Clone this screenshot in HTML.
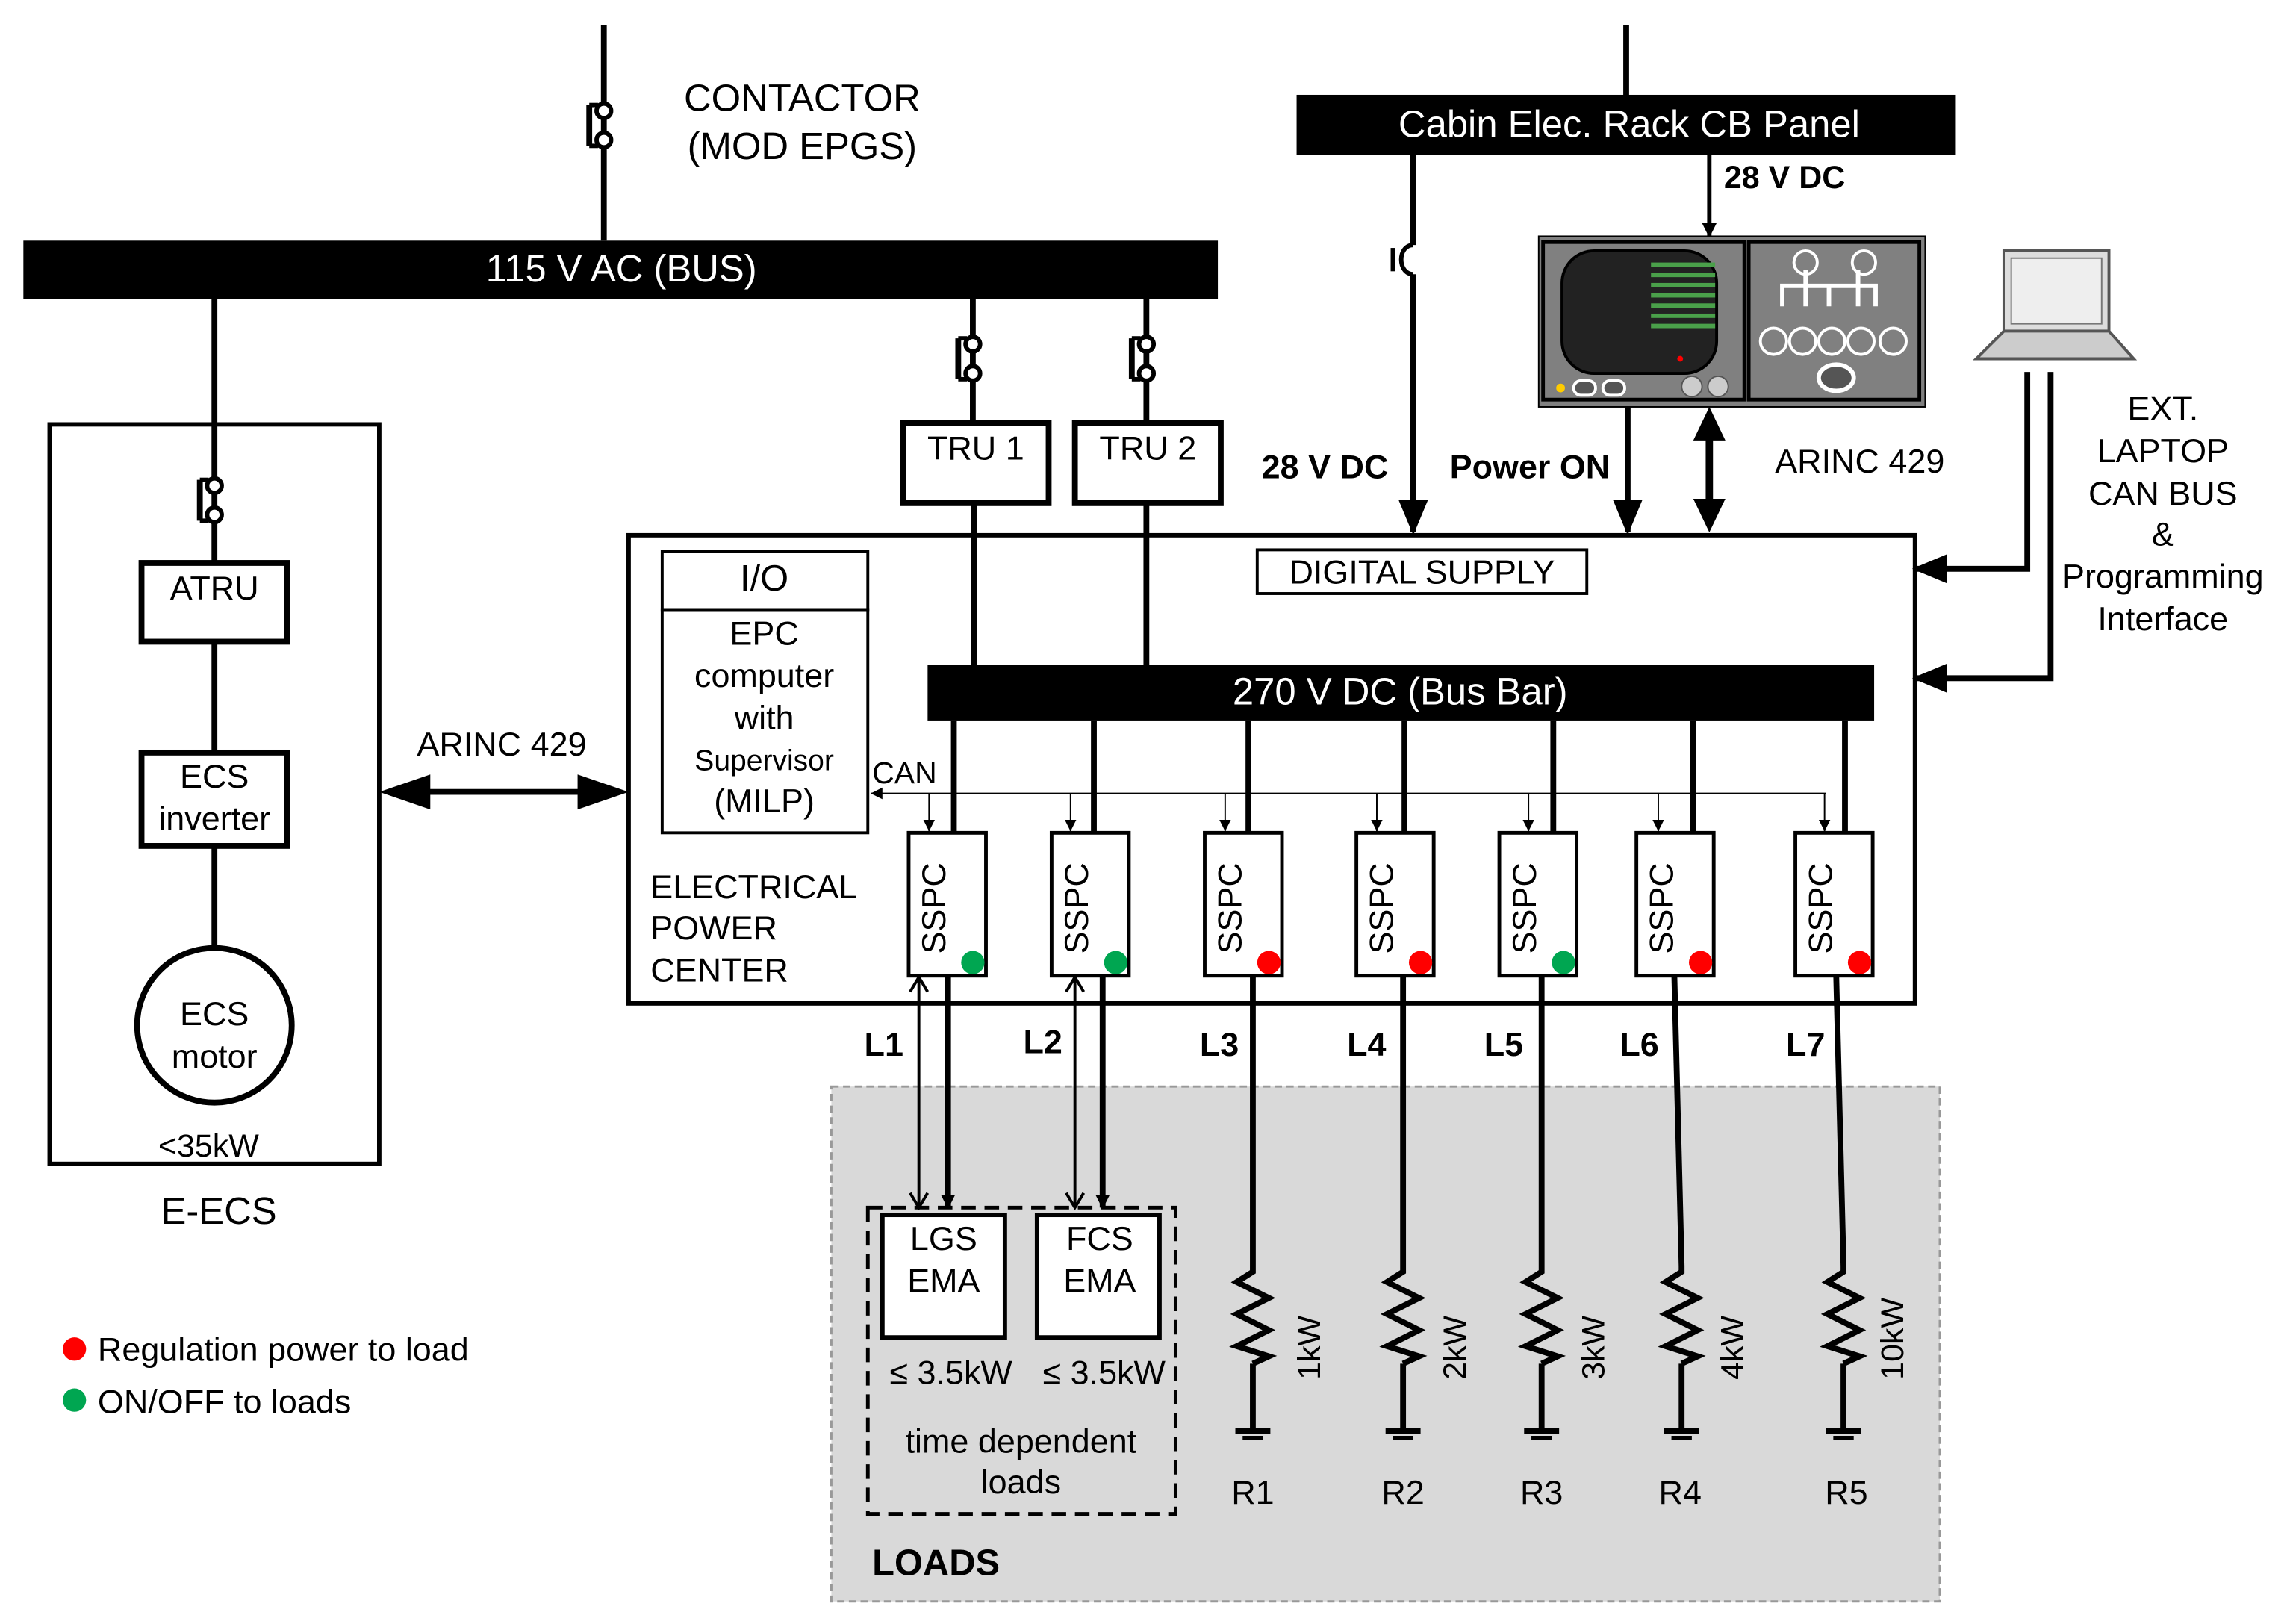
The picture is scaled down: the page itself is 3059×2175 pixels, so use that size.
<!DOCTYPE html>
<html><head><meta charset="utf-8"><style>
html,body{margin:0;padding:0;background:#fff}
svg{display:block}
text{font-family:"Liberation Sans",sans-serif;fill:#000}
</style></head><body>
<svg width="3059" height="2175" viewBox="0 0 1566 1113.5" xmlns="http://www.w3.org/2000/svg">
<defs>
<marker id="ah" markerWidth="10" markerHeight="10" refX="9" refY="5" orient="auto" markerUnits="userSpaceOnUse"><path d="M0,0 L10,5 L0,10 z" fill="#000"/></marker>
<marker id="ahs" markerWidth="8" markerHeight="10" refX="8" refY="4" orient="auto" markerUnits="userSpaceOnUse"><path d="M0,0 L8,4 L0,8 z" fill="#000"/></marker>
<marker id="ahb" markerWidth="24" markerHeight="20" refX="22" refY="10" orient="auto" markerUnits="userSpaceOnUse"><path d="M0,0 L24,10 L0,20 z" fill="#000"/></marker>
<g id="cont"><line x1="-10" y1="-14" x2="-10" y2="14" stroke="#000" stroke-width="4"/><line x1="-10" y1="-14" x2="-4" y2="-14" stroke="#000" stroke-width="3"/><line x1="-10" y1="14" x2="-4" y2="14" stroke="#000" stroke-width="3"/><circle cx="0" cy="-10" r="5" fill="#fff" stroke="#000" stroke-width="3"/><circle cx="0" cy="10" r="5" fill="#fff" stroke="#000" stroke-width="3"/></g>
<g id="res"><polyline points="0,0 0,4 -11,11 11,22 -11,33 11,44 -11,55 11,62 0,67" fill="none" stroke="#000" stroke-width="4"/></g>
<g id="gnd"><line x1="-12" y1="0" x2="12" y2="0" stroke="#000" stroke-width="4"/><line x1="-7" y1="5" x2="7" y2="5" stroke="#000" stroke-width="3"/></g>
</defs>

<line x1="414" y1="17" x2="414" y2="165" stroke="#000" stroke-width="4"/>
<use href="#cont" x="414" y="86"/>
<text x="550" y="76" font-size="26" text-anchor="middle">CONTACTOR</text>
<text x="550" y="109" font-size="26" text-anchor="middle">(MOD EPGS)</text>

<rect x="16" y="165" width="819" height="40" fill="#000"/>
<text x="426" y="193" font-size="26" text-anchor="middle" style="fill:#fff">115 V AC (BUS)</text>

<line x1="1115" y1="17" x2="1115" y2="66" stroke="#000" stroke-width="4"/>
<rect x="889" y="65" width="452" height="41" fill="#000"/>
<text x="1117" y="94" font-size="26" text-anchor="middle" style="fill:#fff">Cabin Elec. Rack CB Panel</text>
<line x1="1172" y1="106" x2="1172" y2="162" stroke="#000" stroke-width="3" marker-end="url(#ah)"/>
<text x="1182" y="129" font-size="22" font-weight="bold">28 V DC</text>

<rect x="1055" y="162" width="265" height="117" fill="#808080" stroke="#000" stroke-width="1"/>
<rect x="1058" y="166" width="138" height="108" fill="#808080" stroke="#000" stroke-width="2.5"/>
<rect x="1199" y="166" width="117" height="108" fill="#808080" stroke="#000" stroke-width="2.5"/>
<rect x="1071" y="172" width="106" height="84" rx="22" fill="#222" stroke="#000" stroke-width="2"/>
<g fill="#4aa04a"><rect x="1132" y="180" width="44" height="3"/><rect x="1132" y="187" width="44" height="3"/><rect x="1132" y="194" width="44" height="3"/><rect x="1132" y="201" width="44" height="3"/><rect x="1132" y="208" width="44" height="3"/><rect x="1132" y="215" width="44" height="3"/><rect x="1132" y="222" width="44" height="3"/></g>
<circle cx="1152" cy="246" r="2" fill="red"/>
<circle cx="1070" cy="266" r="3" fill="#fc0"/>
<rect x="1079" y="261" width="15" height="10" rx="5" fill="#555" stroke="#fff" stroke-width="2"/>
<rect x="1099" y="261" width="15" height="10" rx="5" fill="#555" stroke="#fff" stroke-width="2"/>
<circle cx="1160" cy="265" r="7" fill="#ccc" stroke="#555"/><circle cx="1178" cy="265" r="7" fill="#ccc" stroke="#555"/>
<g fill="none" stroke="#fff" stroke-width="3"><path d="M1222,210 V196 H1286 V210 M1238,196 V185 M1274,196 V185 M1238,196 V210 M1254,196 V210 M1274,196 V210"/></g>
<circle cx="1238" cy="180" r="8" fill="none" stroke="#fff" stroke-width="2"/><circle cx="1278" cy="180" r="8" fill="none" stroke="#fff" stroke-width="2"/>
<g fill="none" stroke="#fff" stroke-width="2"><circle cx="1216" cy="234" r="9"/><circle cx="1236" cy="234" r="9"/><circle cx="1256" cy="234" r="9"/><circle cx="1276" cy="234" r="9"/><circle cx="1298" cy="234" r="9"/></g>
<ellipse cx="1259" cy="259" rx="12" ry="9" fill="#555" stroke="#fff" stroke-width="3"/>

<path d="M969,106 V168 M969,188 V365" stroke="#000" stroke-width="4" fill="none" marker-end="url(#ahb)"/>
<path d="M969,168 C958,168 958,188 969,188" fill="none" stroke="#000" stroke-width="3"/>
<line x1="955" y1="170" x2="955" y2="186" stroke="#000" stroke-width="3"/>
<line x1="1116" y1="279" x2="1116" y2="365" stroke="#000" stroke-width="4" marker-end="url(#ahb)"/>
<line x1="1172" y1="295" x2="1172" y2="350" stroke="#000" stroke-width="5"/>
<path d="M1161,302 L1172,279 L1183,302 z M1161,342 L1172,365 L1183,342 z" fill="#000"/>
<text x="865" y="328" font-size="23" font-weight="bold">28 V DC</text>
<text x="994" y="328" font-size="23" font-weight="bold">Power ON</text>
<text x="1217" y="324" font-size="23">ARINC 429</text>

<rect x="1374" y="172" width="72" height="55" fill="#ddd" stroke="#555" stroke-width="2"/>
<rect x="1379" y="177" width="62" height="45" fill="#eee" stroke="#777"/>
<path d="M1374,227 L1355,246 H1463 L1446,227 z" fill="#ccc" stroke="#555" stroke-width="2"/>
<path d="M1390,255 V390 H1313" fill="none" stroke="#000" stroke-width="4" marker-end="url(#ahb)"/>
<path d="M1406,255 V465 H1313" fill="none" stroke="#000" stroke-width="4" marker-end="url(#ahb)"/>
<g font-size="23" text-anchor="middle"><text x="1483" y="288">EXT.</text><text x="1483" y="317">LAPTOP</text><text x="1483" y="346">CAN BUS</text><text x="1483" y="374">&amp;</text><text x="1483" y="403">Programming</text><text x="1483" y="432">Interface</text></g>

<rect x="431" y="367" width="882" height="321" fill="none" stroke="#000" stroke-width="3"/>
<rect x="454" y="378" width="141" height="40" fill="none" stroke="#000" stroke-width="2"/>
<rect x="454" y="418" width="141" height="153" fill="none" stroke="#000" stroke-width="2"/>
<text x="524" y="405" font-size="25" text-anchor="middle">I/O</text>
<g text-anchor="middle" font-size="23"><text x="524" y="442">EPC</text><text x="524" y="471">computer</text><text x="524" y="500">with</text><text x="524" y="528" font-size="20">Supervisor</text><text x="524" y="557">(MILP)</text></g>
<rect x="862" y="377" width="226" height="30" fill="none" stroke="#000" stroke-width="2"/>
<text x="975" y="400" font-size="23" text-anchor="middle">DIGITAL SUPPLY</text>
<g font-size="23"><text x="446" y="616">ELECTRICAL</text><text x="446" y="644">POWER</text><text x="446" y="673">CENTER</text></g>

<line x1="667" y1="205" x2="667" y2="290" stroke="#000" stroke-width="4"/>
<use href="#cont" x="667" y="246"/>
<line x1="786" y1="205" x2="786" y2="290" stroke="#000" stroke-width="4"/>
<use href="#cont" x="786" y="246"/>
<rect x="619" y="290" width="100" height="55" fill="#fff" stroke="#000" stroke-width="4"/>
<rect x="737" y="290" width="100" height="55" fill="#fff" stroke="#000" stroke-width="4"/>
<text x="669" y="315" font-size="23" text-anchor="middle">TRU 1</text>
<text x="787" y="315" font-size="23" text-anchor="middle">TRU 2</text>
<line x1="668" y1="345" x2="668" y2="456" stroke="#000" stroke-width="4"/>
<line x1="786" y1="345" x2="786" y2="456" stroke="#000" stroke-width="4"/>

<rect x="636" y="456" width="649" height="38" fill="#000"/>
<text x="960" y="483" font-size="26" text-anchor="middle" style="fill:#fff">270 V DC (Bus Bar)</text>

<line x1="1252" y1="544" x2="597" y2="544" stroke="#000" stroke-width="1" marker-end="url(#ahs)"/>
<text x="598" y="537" font-size="21">CAN</text>

<g stroke="#000">
<line x1="654" y1="494" x2="654" y2="571" stroke-width="4"/>
<line x1="750" y1="494" x2="750" y2="571" stroke-width="4"/>
<line x1="856" y1="494" x2="856" y2="571" stroke-width="4"/>
<line x1="963" y1="494" x2="963" y2="571" stroke-width="4"/>
<line x1="1065" y1="494" x2="1065" y2="571" stroke-width="4"/>
<line x1="1161" y1="494" x2="1161" y2="571" stroke-width="4"/>
<line x1="1265" y1="494" x2="1265" y2="571" stroke-width="4"/>
<g stroke-width="1" marker-end="url(#ahs)">
<line x1="637" y1="544" x2="637" y2="570"/><line x1="734" y1="544" x2="734" y2="570"/><line x1="840" y1="544" x2="840" y2="570"/><line x1="944" y1="544" x2="944" y2="570"/><line x1="1048" y1="544" x2="1048" y2="570"/><line x1="1137" y1="544" x2="1137" y2="570"/><line x1="1251" y1="544" x2="1251" y2="570"/>
</g>
</g>
<g fill="#fff" stroke="#000" stroke-width="2.5">
<rect x="623" y="571" width="53" height="98"/><rect x="721" y="571" width="53" height="98"/><rect x="826" y="571" width="53" height="98"/><rect x="930" y="571" width="53" height="98"/><rect x="1028" y="571" width="53" height="98"/><rect x="1122" y="571" width="53" height="98"/><rect x="1231" y="571" width="53" height="98"/>
</g>
<g font-size="23">
<text transform="translate(648,654) rotate(-90)">SSPC</text>
<text transform="translate(746,654) rotate(-90)">SSPC</text>
<text transform="translate(851,654) rotate(-90)">SSPC</text>
<text transform="translate(955,654) rotate(-90)">SSPC</text>
<text transform="translate(1053,654) rotate(-90)">SSPC</text>
<text transform="translate(1147,654) rotate(-90)">SSPC</text>
<text transform="translate(1256,654) rotate(-90)">SSPC</text>
</g>
<circle cx="667" cy="660" r="8" fill="#00a651"/><circle cx="765" cy="660" r="8" fill="#00a651"/><circle cx="870" cy="660" r="8" fill="#f00"/><circle cx="974" cy="660" r="8" fill="#f00"/><circle cx="1072" cy="660" r="8" fill="#00a651"/><circle cx="1166" cy="660" r="8" fill="#f00"/><circle cx="1275" cy="660" r="8" fill="#f00"/>

<rect x="570" y="745" width="760" height="353" fill="#d9d9d9" stroke="#999" stroke-width="1.5" stroke-dasharray="5,3"/>
<rect x="595" y="828" width="211" height="210" fill="none" stroke="#000" stroke-width="2.5" stroke-dasharray="10,6"/>
<rect x="605" y="833" width="84" height="84" fill="#fff" stroke="#000" stroke-width="3"/>
<rect x="711" y="833" width="84" height="84" fill="#fff" stroke="#000" stroke-width="3"/>
<g font-size="23" text-anchor="middle"><text x="647" y="857">LGS</text><text x="647" y="886">EMA</text><text x="754" y="857">FCS</text><text x="754" y="886">EMA</text>
<text x="652" y="949">≤ 3.5kW</text><text x="757" y="949">≤ 3.5kW</text>
<text x="700" y="996">time dependent</text><text x="700" y="1024">loads</text></g>
<text x="598" y="1080" font-size="25" font-weight="bold">LOADS</text>

<g stroke="#000" fill="none">
<line x1="650" y1="669" x2="650" y2="828" stroke-width="4" marker-end="url(#ah)"/>
<line x1="756" y1="669" x2="756" y2="828" stroke-width="4" marker-end="url(#ah)"/>
<line x1="630" y1="670" x2="630" y2="828" stroke-width="2"/>
<line x1="737" y1="670" x2="737" y2="828" stroke-width="2"/>
<path d="M624,680 L630,670 L636,680 M624,818 L630,828 L636,818 M731,680 L737,670 L743,680 M731,818 L737,828 L743,818" stroke-width="2"/>
<line x1="859" y1="669" x2="859" y2="868" stroke-width="4"/>
<line x1="962" y1="669" x2="962" y2="868" stroke-width="4"/>
<line x1="1057" y1="669" x2="1057" y2="868" stroke-width="4"/>
<line x1="1148" y1="669" x2="1153" y2="868" stroke-width="4"/>
<line x1="1259" y1="669" x2="1264" y2="868" stroke-width="4"/>
</g>
<use href="#res" x="859" y="868"/><use href="#res" x="962" y="868"/><use href="#res" x="1057" y="868"/><use href="#res" x="1153" y="868"/><use href="#res" x="1264" y="868"/>
<g stroke="#000" stroke-width="4">
<line x1="859" y1="935" x2="859" y2="980"/><line x1="962" y1="935" x2="962" y2="980"/><line x1="1057" y1="935" x2="1057" y2="980"/><line x1="1153" y1="935" x2="1153" y2="980"/><line x1="1264" y1="935" x2="1264" y2="980"/>
</g>
<use href="#gnd" x="859" y="981"/><use href="#gnd" x="962" y="981"/><use href="#gnd" x="1057" y="981"/><use href="#gnd" x="1153" y="981"/><use href="#gnd" x="1264" y="981"/>
<g font-size="22">
<text transform="translate(905,946) rotate(-90)">1kW</text>
<text transform="translate(1005,946) rotate(-90)">2kW</text>
<text transform="translate(1100,946) rotate(-90)">3kW</text>
<text transform="translate(1195,946) rotate(-90)">4kW</text>
<text transform="translate(1305,946) rotate(-90)">10kW</text>
</g>
<g font-size="23" text-anchor="middle"><text x="859" y="1031">R1</text><text x="962" y="1031">R2</text><text x="1057" y="1031">R3</text><text x="1152" y="1031">R4</text><text x="1266" y="1031">R5</text></g>
<g font-size="23" font-weight="bold" text-anchor="middle"><text x="606" y="724">L1</text><text x="715" y="722">L2</text><text x="836" y="724">L3</text><text x="937" y="724">L4</text><text x="1031" y="724">L5</text><text x="1124" y="724">L6</text><text x="1238" y="724">L7</text></g>

<rect x="34" y="291" width="226" height="507" fill="none" stroke="#000" stroke-width="3"/>
<line x1="147" y1="205" x2="147" y2="386" stroke="#000" stroke-width="4"/>
<use href="#cont" x="147" y="343"/>
<rect x="97" y="386" width="100" height="54" fill="#fff" stroke="#000" stroke-width="4"/>
<text x="147" y="411" font-size="23" text-anchor="middle">ATRU</text>
<line x1="147" y1="440" x2="147" y2="516" stroke="#000" stroke-width="4"/>
<rect x="97" y="516" width="100" height="64" fill="#fff" stroke="#000" stroke-width="4"/>
<text x="147" y="540" font-size="23" text-anchor="middle">ECS</text>
<text x="147" y="569" font-size="23" text-anchor="middle">inverter</text>
<line x1="147" y1="580" x2="147" y2="650" stroke="#000" stroke-width="4"/>
<circle cx="147" cy="703" r="53" fill="#fff" stroke="#000" stroke-width="4"/>
<text x="147" y="703" font-size="23" text-anchor="middle">ECS</text>
<text x="147" y="732" font-size="23" text-anchor="middle">motor</text>
<text x="143" y="793" font-size="22" text-anchor="middle">&lt;35kW</text>
<text x="150" y="839" font-size="26" text-anchor="middle">E-ECS</text>

<line x1="280" y1="543" x2="411" y2="543" stroke="#000" stroke-width="4"/>
<path d="M260,543 L295,531 L295,555 z M431,543 L396,531 L396,555 z" fill="#000"/>
<text x="344" y="518" font-size="23" text-anchor="middle">ARINC 429</text>

<circle cx="51" cy="925" r="8" fill="#f00"/>
<text x="67" y="933" font-size="23">Regulation power to load</text>
<circle cx="51" cy="960" r="8" fill="#00a651"/>
<text x="67" y="969" font-size="23">ON/OFF to loads</text>
</svg>
</body></html>
